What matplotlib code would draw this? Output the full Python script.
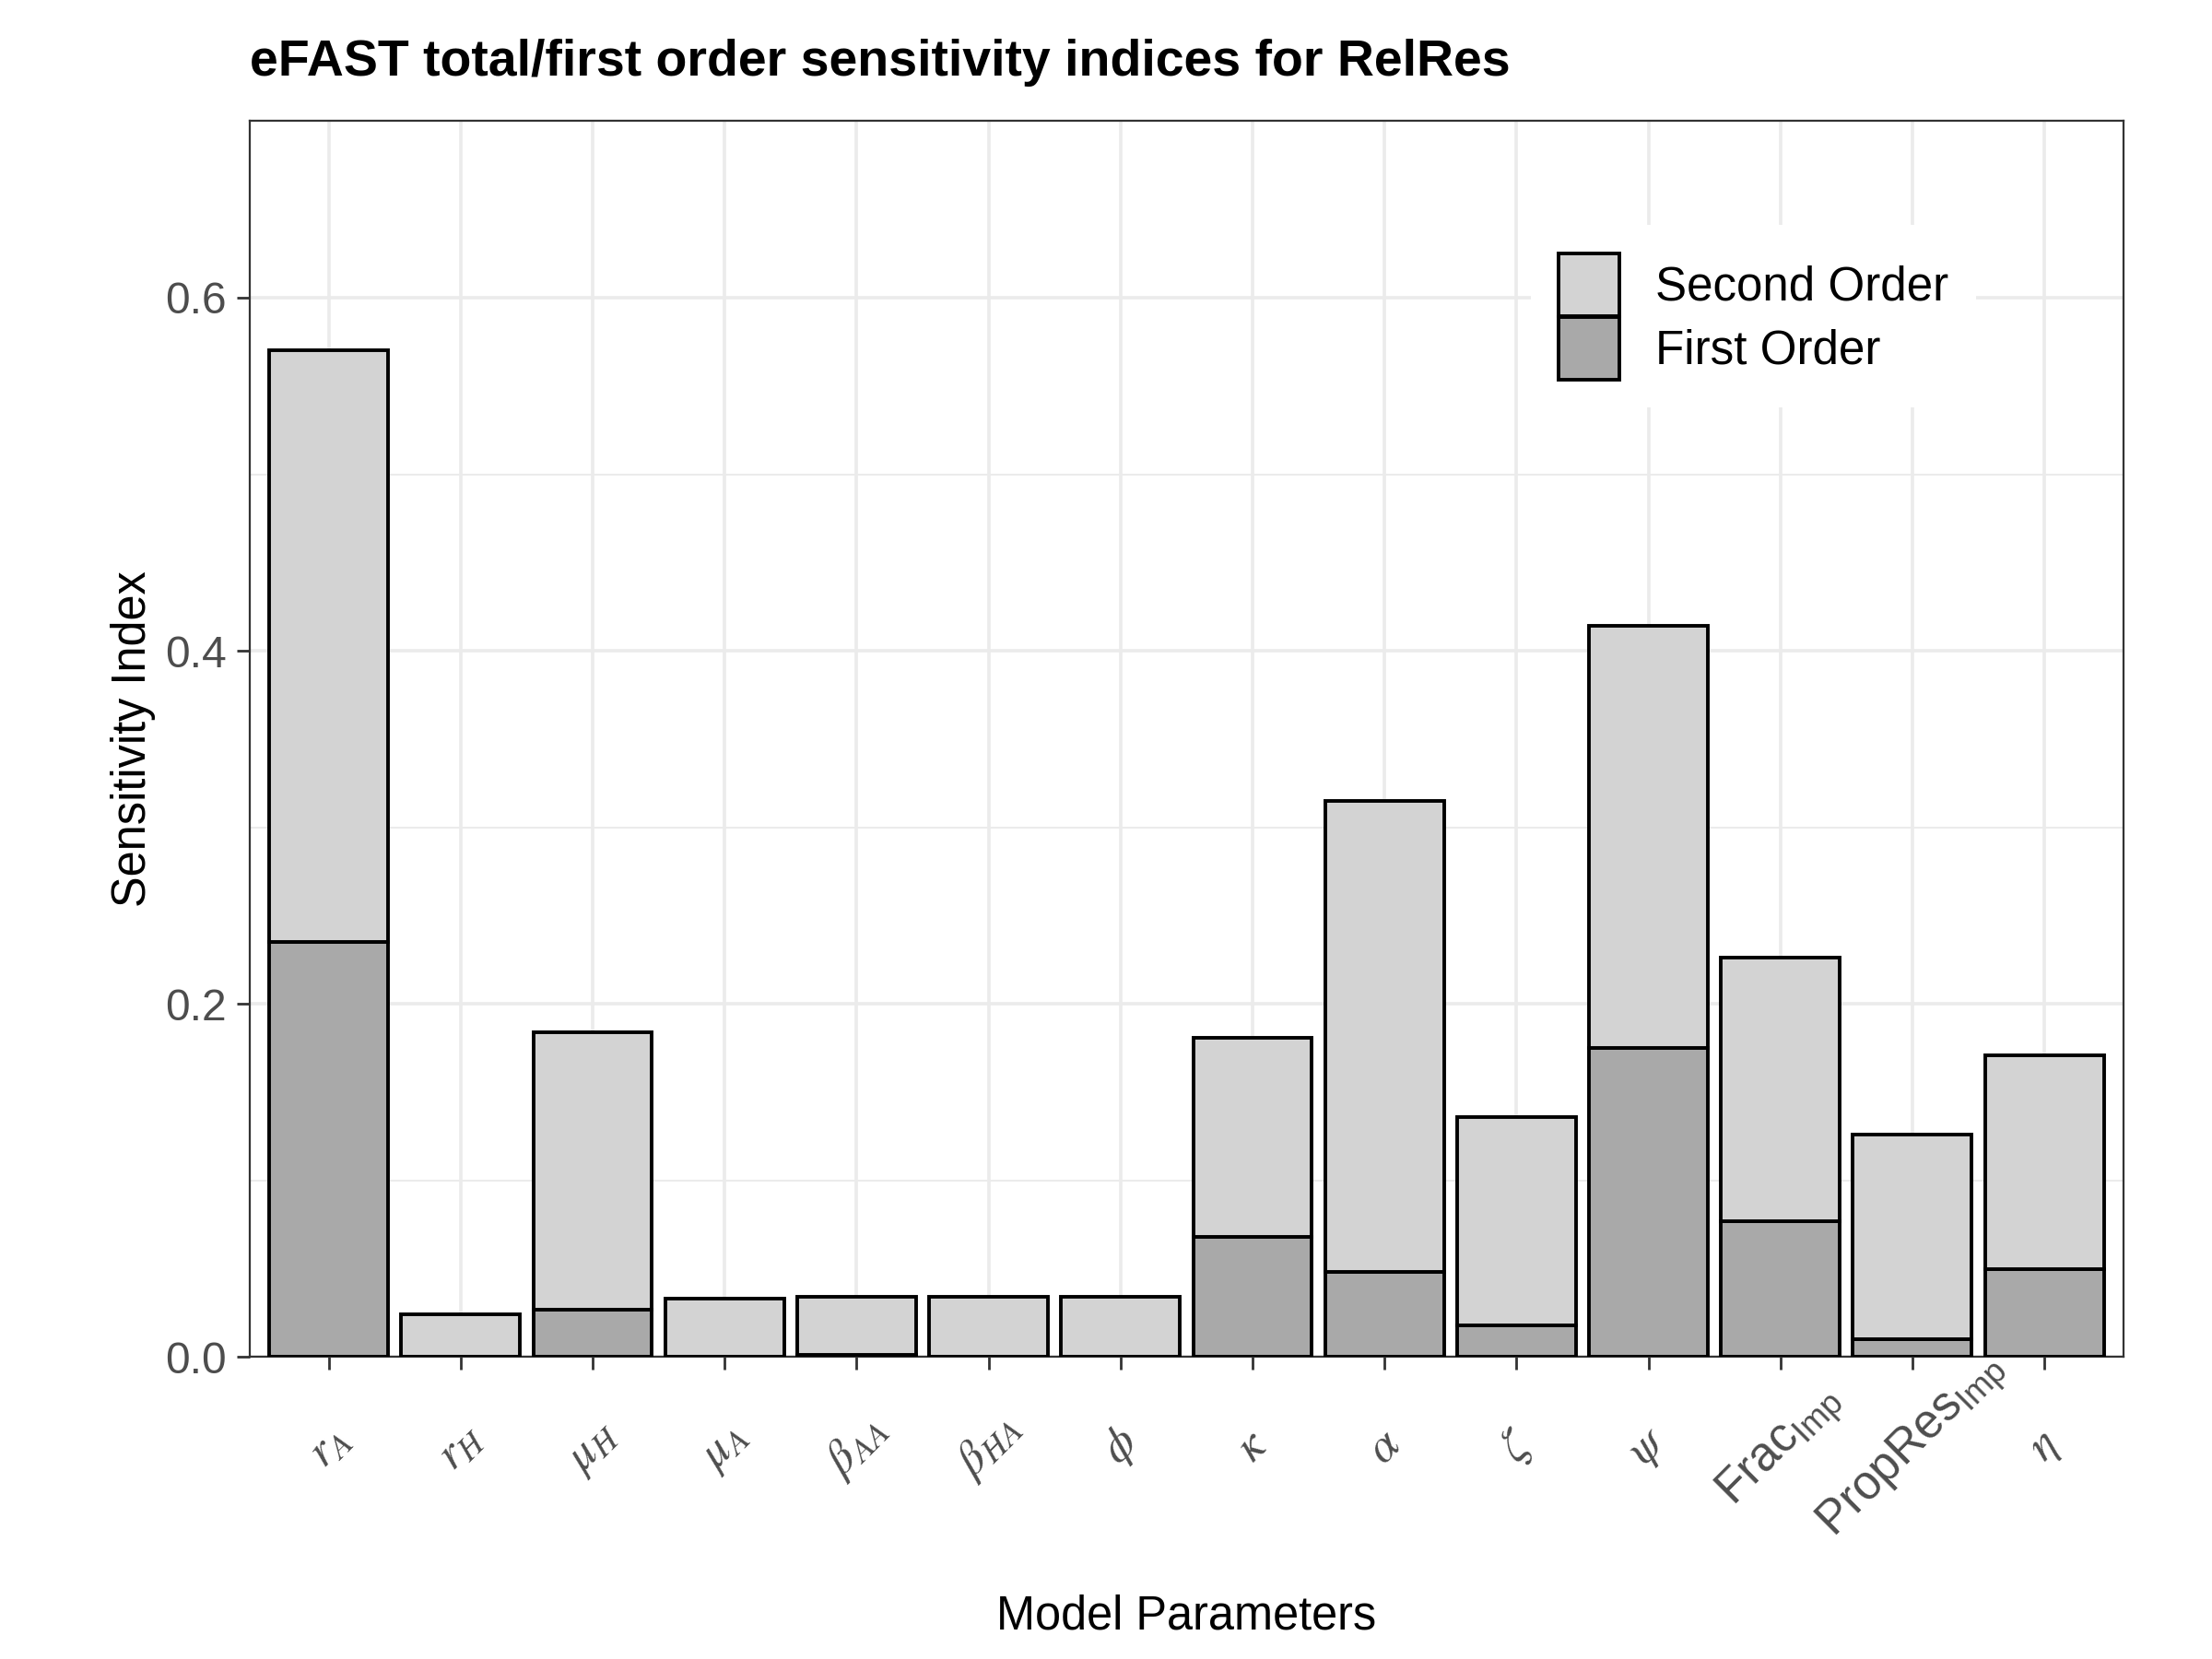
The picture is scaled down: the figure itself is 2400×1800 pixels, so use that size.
import matplotlib
matplotlib.use('Agg')
import matplotlib.pyplot as plt
from matplotlib.patches import Patch
import numpy as np

plt.rcParams['font.family'] = ['Liberation Sans', 'DejaVu Sans']
plt.rcParams['mathtext.fontset'] = 'stix'

# parameter labels (mathtext)
params = [r'$r_A$', r'$r_H$', r'$\mu_H$', r'$\mu_A$', r'$\beta_{AA}$', r'$\beta_{HA}$',
          r'$\phi$', r'$\kappa$', r'$\alpha$', r'$\zeta$', r'$\psi$',
          r'$\mathregular{Frac_{Imp}}$', r'$\mathregular{PropRes_{Imp}}$', r'$\eta$']

first_order = [0.235, 0.0, 0.027, 0.0, 0.001, 0.0, 0.0,
               0.068, 0.048, 0.018, 0.175, 0.077, 0.010, 0.050]
second_order = [0.335, 0.024, 0.157, 0.033, 0.033, 0.034, 0.034,
                0.113, 0.267, 0.118, 0.239, 0.149, 0.116, 0.121]

y_ticks = [0.0, 0.2, 0.4, 0.6]
y_minor = [0.1, 0.3, 0.5, 0.7]

col_first = '#A9A9A9'
col_second = '#D3D3D3'

fig = plt.figure(figsize=(12, 9), dpi=200)
ax = fig.add_axes([0.1128, 0.182, 0.960 - 0.1128, 0.927 - 0.182])

x = np.arange(len(params))
ax.bar(x, first_order, width=0.9, color=col_first, edgecolor='black', linewidth=1.4, zorder=3)
ax.bar(x, second_order, width=0.9, bottom=first_order, color=col_second,
       edgecolor='black', linewidth=1.4, zorder=3)

ax.set_xlim(-0.6, len(params) - 1 + 0.6)
ax.set_ylim(0, 0.7)
ax.set_yticks(y_ticks)
ax.set_yticklabels(['0.0', '0.2', '0.4', '0.6'])
ax.set_yticks(y_minor, minor=True)
ax.set_xticks(x)
ax.set_xticklabels(params, rotation=45, ha='center', va='center', rotation_mode='default')

ax.grid(True, which='major', color='#EBEBEB', linewidth=1.3, zorder=0)
ax.grid(True, which='minor', axis='y', color='#EBEBEB', linewidth=0.7, zorder=0)
ax.set_axisbelow(True)

for s in ax.spines.values():
    s.set_color('#333333')
    s.set_linewidth(0.8)

ax.tick_params(axis='both', which='major', colors='#333333', length=5, width=1.0,
               labelsize=17.3, labelcolor='#4D4D4D')
ax.tick_params(axis='x', pad=30, labelsize=18.5)
ax.tick_params(axis='y', pad=4)
ax.tick_params(axis='y', which='minor', length=0)

ax.set_xlabel('Model Parameters', fontsize=18.2, labelpad=17)
ax.set_ylabel('Sensitivity Index', fontsize=18.2, labelpad=3.7)
fig.text(0.1128, 0.962, 'eFAST total/first order sensitivity indices for RelRes',
         fontsize=20, fontweight='bold', ha='left', va='center')

handles = [Patch(facecolor=col_second, edgecolor='black', linewidth=1.4, label='Second Order'),
           Patch(facecolor=col_first, edgecolor='black', linewidth=1.4, label='First Order')]
leg = ax.legend(handles=handles, loc='upper left', bbox_to_anchor=(0.671, 0.935),
                fontsize=18.4, frameon=True, fancybox=False, handlelength=1.29, handleheight=1.67,
                labelspacing=0.02, handletextpad=0.75, borderpad=0.6)
leg.get_frame().set_facecolor('white')
leg.get_frame().set_edgecolor('none')
leg.get_frame().set_alpha(1)

fig.savefig('out.png', dpi=200)
